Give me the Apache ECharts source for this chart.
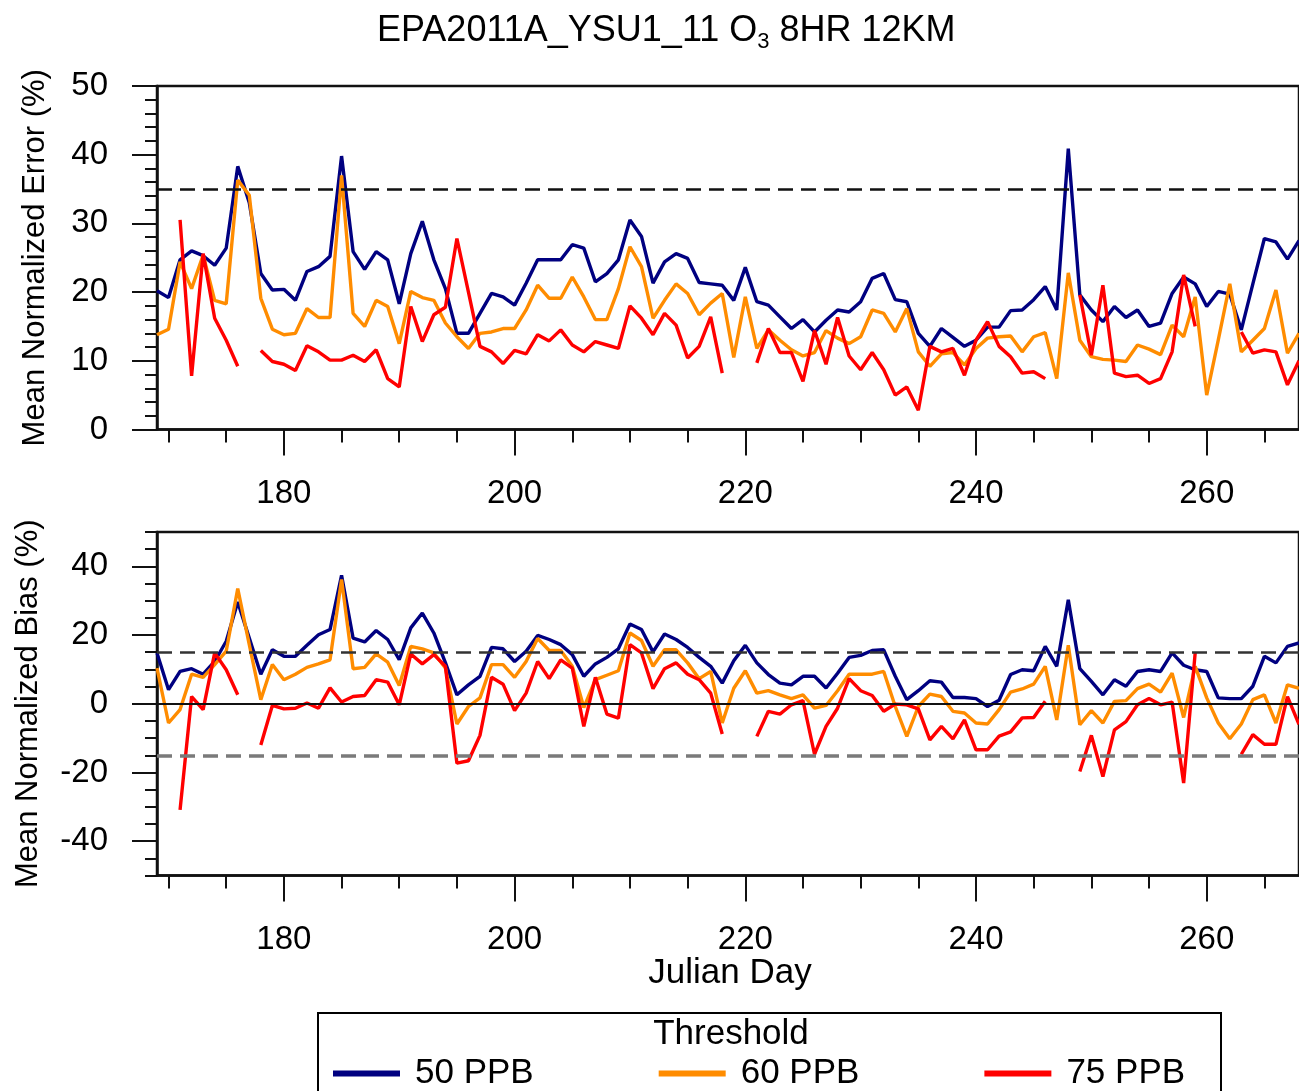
<!DOCTYPE html>
<html><head><meta charset="utf-8">
<script src="https://cdn.jsdelivr.net/npm/echarts@6/dist/echarts.min.js"></script>
<style>html,body{margin:0;padding:0;background:#fff}#c{width:1299px;height:1091px}</style>
</head><body><div id="c"></div>
<script>
// Julian days
const days = [169,170,171,172,173,174,175,176,177,178,179,180,181,182,183,184,185,186,187,188,189,190,191,192,193,194,195,196,197,198,199,200,201,202,203,204,205,206,207,208,209,210,211,212,213,214,215,216,217,218,219,220,221,222,223,224,225,226,227,228,229,230,231,232,233,234,235,236,237,238,239,240,241,242,243,244,245,246,247,248,249,250,251,252,253,254,255,256,257,258,259,260,261,262,263,264,265,266,267,268];

// Mean Normalized Error (%)
const mne50 = [20.2,19.2,24.7,26.0,25.3,23.9,26.4,38.3,33.0,22.7,20.3,20.4,18.8,23.0,23.7,25.2,39.8,25.9,23.3,25.9,24.7,18.3,25.6,30.3,24.7,20.5,14.0,14.0,16.9,19.8,19.3,18.1,21.3,24.7,24.7,24.7,26.9,26.4,21.5,22.7,24.7,30.5,28.1,21.3,24.4,25.6,24.9,21.4,21.2,21.0,18.8,23.6,18.6,18.1,16.4,14.7,16.0,14.2,15.9,17.4,17.1,18.6,22.0,22.7,18.9,18.6,14.0,12.1,14.7,13.4,12.1,13.0,14.9,14.9,17.3,17.4,18.9,20.8,17.4,40.9,19.6,17.4,15.7,17.9,16.3,17.4,15.0,15.5,19.8,22.2,21.2,17.9,20.1,19.7,14.5,21.2,27.8,27.3,24.8,27.5];
const mne60 = [13.8,14.6,24.4,20.5,25.4,18.8,18.3,36.3,34.1,19.1,14.6,13.8,14.0,17.6,16.3,16.3,37.0,16.9,15.0,18.8,17.9,12.5,20.1,19.2,18.8,15.5,13.5,11.8,14.0,14.2,14.7,14.7,17.4,21.0,19.1,19.1,22.2,19.3,16.0,16.0,20.5,26.6,23.7,16.2,18.8,21.2,19.8,16.7,18.4,19.8,10.5,19.3,11.8,14.5,13.0,11.6,10.7,11.2,14.4,13.3,12.5,13.5,17.4,16.9,14.2,17.6,11.3,9.2,11.0,11.2,9.4,11.8,13.3,13.5,13.6,11.3,13.5,14.1,7.4,22.8,13.0,10.6,10.2,10.1,9.9,12.3,11.7,10.9,15.2,13.5,19.3,5.0,13.0,21.2,11.3,13.0,14.7,20.3,11.1,14.0];
const mne75 = [null,null,30.5,7.8,25.6,16.2,13.0,9.2,null,11.5,9.9,9.5,8.6,12.2,11.3,10.1,10.1,10.8,9.9,11.6,7.4,6.2,17.9,12.8,16.7,17.8,27.8,20.0,12.1,11.3,9.6,11.5,11.0,13.8,12.9,14.5,12.3,11.3,12.8,12.3,11.8,18.0,16.2,13.8,16.9,15.2,10.4,12.1,16.4,8.2,null,null,9.7,14.7,11.2,11.2,7.0,14.4,9.5,16.3,10.7,8.7,11.2,8.7,5.0,6.2,2.8,12.1,11.3,11.8,7.9,13.0,15.7,12.1,10.6,8.2,8.4,7.4,null,null,19.6,10.8,21.0,8.2,7.7,7.9,6.7,7.4,11.3,22.5,15.0,null,null,null,14.2,11.1,11.6,11.3,6.5,10.0];

// Mean Normalized Bias (%)
const mnb50 = [14.8,4.1,9.4,10.2,8.6,12.3,18.2,29.6,19.1,8.6,15.7,13.8,13.8,17.0,20.1,21.6,37.4,19.1,18.0,21.3,18.7,12.8,22.1,26.4,20.6,12.0,2.6,5.5,8.0,16.4,16.0,12.3,15.3,19.9,18.7,17.2,14.3,8.0,11.6,13.5,16.0,23.2,21.6,15.1,20.3,18.7,16.4,13.5,10.9,6.0,12.5,17.0,11.9,8.5,6.0,5.5,8.0,8.0,4.6,8.9,13.5,14.1,15.5,15.7,8.0,1.2,3.8,6.7,6.3,1.8,1.8,1.5,-0.8,1.0,8.5,9.9,9.6,16.7,10.9,30.3,10.2,6.5,2.6,7.0,5.1,9.4,9.9,9.4,14.8,11.2,9.9,9.4,1.7,1.5,1.5,5.1,13.8,11.9,16.7,17.7];
const mnb60 = [10.4,-5.6,-1.7,8.6,7.7,11.4,15.3,33.5,17.2,1.2,11.4,7.0,8.6,10.6,11.6,12.8,36.2,10.2,10.6,14.5,12.1,5.3,16.7,16.0,14.8,10.4,-5.9,-0.8,1.7,11.4,11.4,7.7,12.3,19.0,15.5,15.5,10.9,-1.1,7.0,8.3,9.6,20.6,18.4,10.9,15.7,15.7,11.9,7.3,9.4,-5.6,4.5,9.6,3.1,3.8,2.6,1.5,2.6,-1.3,-0.5,3.8,8.6,8.6,8.6,9.4,-0.8,-9.5,-0.8,2.8,2.1,-2.2,-2.7,-5.6,-5.9,-1.7,3.4,4.3,5.7,10.9,-4.7,17.0,-6.1,-2.0,-5.6,0.7,0.9,4.4,5.7,3.4,8.9,-4.0,10.9,1.7,-5.6,-10.2,-5.9,1.2,2.6,-5.6,5.5,4.5];
const mnb75 = [null,null,-30.9,2.1,-1.7,14.8,9.9,2.6,null,-12.0,-0.5,-1.5,-1.3,0.2,-1.3,4.6,0.5,2.1,2.4,7.0,6.3,-0.3,14.5,11.6,14.3,10.9,-17.3,-16.6,-9.2,7.7,5.7,-2.0,3.1,12.3,7.3,12.8,10.4,-6.6,7.7,-3.0,-4.2,17.2,14.8,4.4,10.2,11.9,8.6,7.0,3.1,-8.8,null,null,-9.5,-2.2,-3.0,-0.3,0.9,-14.7,-6.6,-1.3,7.3,3.8,2.4,-2.2,-0.1,-0.3,-1.5,-10.5,-6.6,-10.2,-4.7,-13.4,-13.4,-9.4,-8.2,-4.1,-4.0,0.7,null,null,-19.7,-9.2,-21.2,-7.6,-5.2,-0.3,1.5,-0.3,0.5,-23.1,14.8,null,null,null,-14.7,-9.0,-11.8,-11.8,2.1,-6.0];

const seriesNames = ['50 PPB','60 PPB','75 PPB'];
const xMajorTicks = [180,200,220,240,260];
const xMinorTicks = [170,175,185,190,195,205,210,215,225,230,235,245,250,255,265];
const mnbMajorTicks = [-40,-20,0,20,40];
const mnbMinorTicks = [-50,-45,-35,-30,-25,-15,-10,-5,5,10,15,25,30,35,45,50];
const mneThreshold = 35;
const mnbThresholds = [15,-15];

const FONT = 'Liberation Sans, Arial, Helvetica, sans-serif';
const COLORS = ['#000080','#ff8c00','#ff0000'];
const AX = '#111';

function pairs(arr){ return days.map((d,i)=>[d, arr[i] === null ? null : arr[i]]); }

function xAxes(gi){
  return [
    {gridIndex:gi, type:'value', min:169, max:268, position:'bottom',
     axisLine:{show:true, onZero:false, lineStyle:{color:AX, width:2.5}},
     axisTick:{show:true, inside:false, length:26, customValues:xMajorTicks, lineStyle:{color:AX, width:2}},
     axisLabel:{show:true, customValues:xMajorTicks, margin:48, fontSize:33, fontFamily:FONT, color:'#000'},
     splitLine:{show:false}},
    {gridIndex:gi, type:'value', min:169, max:268, position:'bottom',
     axisLine:{show:false, onZero:false},
     axisTick:{show:true, inside:false, length:13, customValues:xMinorTicks, lineStyle:{color:AX, width:2}},
     axisLabel:{show:false}, splitLine:{show:false}}
  ];
}

const option = {
  animation:false,
  backgroundColor:'#fff',
  title:{
    text:'{a|EPA2011A_YSU1_11 O}{b|3}{a| 8HR 12KM}',
    left:372, top:4,
    textStyle:{fontWeight:'normal', rich:{
      a:{fontSize:36, fontFamily:FONT, fontWeight:'normal', color:'#000', lineHeight:44, verticalAlign:'middle'},
      b:{fontSize:22, fontFamily:FONT, fontWeight:'normal', color:'#000', lineHeight:22, verticalAlign:'bottom'}
    }}
  },
  grid:[
    {left:157, top:86, width:1148, height:343.5, show:true, borderColor:AX, borderWidth:2.5, backgroundColor:'transparent'},
    {left:157, top:532, width:1148, height:343.5, show:true, borderColor:AX, borderWidth:2.5, backgroundColor:'transparent'}
  ],
  xAxis: xAxes(0).concat(xAxes(1)),
  yAxis:[
    {gridIndex:0, type:'value', min:0, max:50, interval:10, position:'left',
     name:'Mean Normalized Error (%)', nameLocation:'middle', nameGap:106,
     nameTextStyle:{fontSize:31, fontFamily:FONT, color:'#000'},
     axisLine:{show:true, onZero:false, lineStyle:{color:AX, width:2.5}},
     axisTick:{show:true, inside:false, length:25, lineStyle:{color:AX, width:2}},
     minorTick:{show:true, splitNumber:5, length:12, lineStyle:{color:AX, width:2}},
     axisLabel:{margin:49, fontSize:33, fontFamily:FONT, color:'#000'},
     splitLine:{show:false}},
    {gridIndex:1, type:'value', min:-50, max:50, position:'left',
     name:'Mean Normalized Bias (%)', nameLocation:'middle', nameGap:113,
     nameTextStyle:{fontSize:31, fontFamily:FONT, color:'#000'},
     axisLine:{show:true, onZero:false, lineStyle:{color:AX, width:2.5}},
     axisTick:{show:true, inside:false, length:25, customValues:mnbMajorTicks, lineStyle:{color:AX, width:2}},
     axisLabel:{customValues:mnbMajorTicks, margin:49, fontSize:33, fontFamily:FONT, color:'#000'},
     splitLine:{show:false}},
    {gridIndex:1, type:'value', min:-50, max:50, position:'left',
     axisLine:{show:false, onZero:false},
     axisTick:{show:true, inside:false, length:12, customValues:mnbMinorTicks, lineStyle:{color:AX, width:2}},
     axisLabel:{show:false}, splitLine:{show:false}}
  ],
  legend:{
    data:seriesNames, left:333, top:1056, padding:0,
    itemWidth:67, itemHeight:6, itemGap:125, icon:'rect',
    textStyle:{fontSize:35, fontFamily:FONT, color:'#000', padding:[0,0,0,10]}
  },
  graphic:[
    {type:'rect', shape:{x:318, y:1013, width:903, height:130}, style:{fill:'none', stroke:'#000', lineWidth:2}, z:0},
    {type:'text', x:731, y:1034, style:{text:'Threshold', font:'35px '+FONT, fill:'#000', align:'center', verticalAlign:'middle'}},
    {type:'text', x:730, y:973, style:{text:'Julian Day', font:'35px '+FONT, fill:'#000', align:'center', verticalAlign:'middle'}}
  ],
  series:[
    {type:'line', xAxisIndex:0, yAxisIndex:0, data:[], z:1, silent:true,
     markLine:{silent:true, symbol:['none','none'], label:{show:false},
       data:[{yAxis:mneThreshold, lineStyle:{type:[15,8], color:'#111', width:2.5}}]}},
    {type:'line', xAxisIndex:2, yAxisIndex:1, data:[], z:1, silent:true,
     markLine:{silent:true, symbol:['none','none'], label:{show:false},
       data:[
         {yAxis:mnbThresholds[0], lineStyle:{type:[15,8], color:'#333', width:2.5}},
         {yAxis:mnbThresholds[1], lineStyle:{type:[15,8], color:'#7a7a7a', width:3.5}},
         {yAxis:0, lineStyle:{type:'solid', color:'#111', width:2}}
       ]}}
  ]
};

const mneSets = [mne50, mne60, mne75];
const mnbSets = [mnb50, mnb60, mnb75];
seriesNames.forEach((nm,k)=>{
  option.series.push({name:nm, type:'line', xAxisIndex:0, yAxisIndex:0, data:pairs(mneSets[k]),
    color:COLORS[k], symbol:'none', lineStyle:{width:3.4, color:COLORS[k]}, connectNulls:false, z:2+k});
});
seriesNames.forEach((nm,k)=>{
  option.series.push({name:nm, type:'line', xAxisIndex:2, yAxisIndex:1, data:pairs(mnbSets[k]),
    color:COLORS[k], symbol:'none', lineStyle:{width:3.4, color:COLORS[k]}, connectNulls:false, z:2+k});
});

const chart = echarts.init(document.getElementById('c'), null, {renderer:'canvas'});
chart.setOption(option);
</script>
</body></html>
